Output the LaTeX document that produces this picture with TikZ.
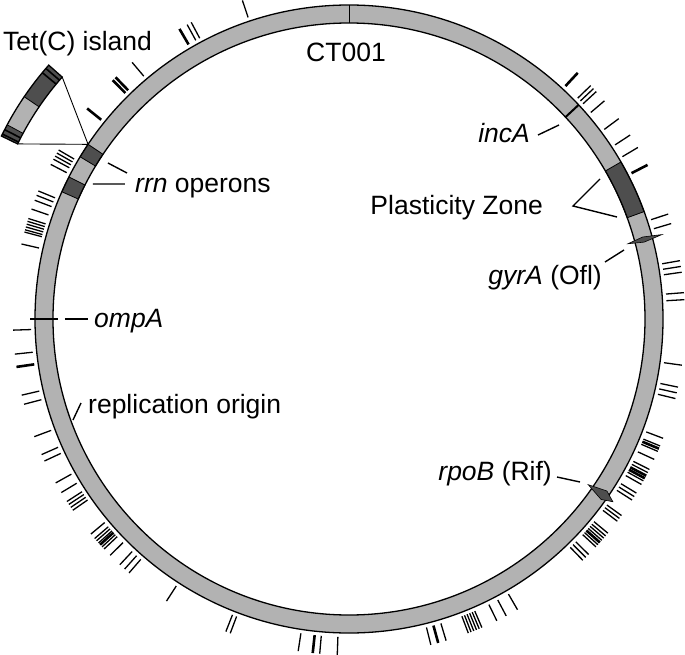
\documentclass[tikz,border=0pt]{standalone}
\usepackage{fontspec}
\setmainfont{Liberation Sans}
\definecolor{ringlight}{RGB}{178,178,178}
\definecolor{ringdark}{RGB}{78,78,78}
\newcommand\annseg[3]{\path[#3] (#1:296) arc[start angle=#1,end angle=#2,radius=296] -- (#2:314) arc[start angle=#2,end angle=#1,radius=314] -- cycle;}
\begin{document}
\begin{tikzpicture}[x=1pt,y=1pt,
  tick/.style={line width=1.3pt},
  thicktick/.style={line width=2.6pt},
  lbl/.style={font=\fontsize{26.5}{31}\selectfont, inner sep=0pt},
  lead/.style={line width=1.4pt},
  segdark/.style={fill=ringdark, draw=black, line width=0.8pt},
  kite/.style={fill=ringdark, draw=black, line width=0.6pt}]
\useasboundingbox (-349,-335) rectangle (336,319);
% ring
\path[fill=ringlight, even odd rule] (0,0) circle (314) (0,0) circle (296);
\annseg{146.2}{148.9}{segdark}
\annseg{153.1}{156.1}{segdark}
\annseg{20}{30}{segdark}
\draw[line width=1.3pt] (0,0) circle (314) (0,0) circle (296);
\draw[line width=0.9pt] (90:296) -- (90:314);
% markers
\draw[line width=2pt] (43:296) -- (43:314);
\draw[line width=2pt] (180:291) -- (180:319);
\path[kite] (15.1:289) -- (15.6:305) -- (15.1:324) -- (14.6:305) -- cycle;
\path[kite] (325.3:291) -- (326.3:310) -- (325.3:321) -- (324.4:310) -- cycle;
% ticks
\foreach \a in {108.5,118.0,118.8,130.2,149.8,150.4,151.0,151.6,152.6,157.6,158.4,159.3,160.9,
  162.6,163.1,163.6,164.1,164.6,165.0,167.1,181.9,186,193.1,194.7,200.5,203.8,205.0,209.2,211.1,
  212.9,213.5,214.1,214.7,219.8,220.8,221.3,221.8,222.7,223.2,224.7,227.0,228.1,229.1,237.1,
  248.5,249.3,261.3,265.0,268.0,284.1,286.8,290.8,291.3,291.8,292.3,292.8,293.3,296.1,297.9,300.1,
  314.1,314.8,315.5,317.3,317.8,318.8,319.3,319.8,320.4,323.0,323.6,324.2,327.4,328.1,328.8,
  330.5,331.2,332.8,333.4,335.3,336.8,337.8,339.2,346.3,347.3,348.3,352.1,3.3,4.5,8.0,9.0,10.0,
  16.5,18.2,30.7,33.2,36.6,40.5,42.6,43.3,44.0}
  \draw[tick] (\a:318) -- (\a:336);
\foreach \a in {120.3,134.0,134.7,141.2,188.2,222.2,263.8,285.4,318.3,331.7,332.2,337.3,27.3,47.1}
  \draw[thicktick] (\a:318) -- (\a:336);
% Tet(C) island inset
\begin{scope}[shift={(-65.1,45.8)}]
  \path[fill=ringdark] (138.5:296) arc[start angle=138.5,end angle=154.1,radius=296] -- (154.1:314) arc[start angle=154.1,end angle=138.5,radius=314] -- cycle;
  \path[fill=ringlight] (145.8:296) arc[start angle=145.8,end angle=151.8,radius=296] -- (151.8:314) arc[start angle=151.8,end angle=145.8,radius=314] -- cycle;
  \foreach \a in {139.3,140.3,152.8,153.7} \draw[line width=1.6pt] (\a:296) -- (\a:314);
  \draw[line width=0.8pt] (145.8:296) -- (145.8:314) (151.8:296) -- (151.8:314);
  \draw[line width=1.3pt] (138.5:296) arc[start angle=138.5,end angle=154.1,radius=296] -- (154.1:314) arc[start angle=154.1,end angle=138.5,radius=314] -- cycle;
  \coordinate (tetA) at (138.5:296);
  \coordinate (tetB) at (154.1:296);
\end{scope}
\coordinate (tetP) at (146.2:314);
\draw[line width=0.9pt] (tetA) -- (tetP) -- (tetB);
% labels
\node[lbl, anchor=base] (ct) at (-3,257) {CT001};
\node[lbl, anchor=base west] (tet) at (-346,268) {Tet(C) island};
\node[lbl, anchor=base west] (rrn) at (-214,127) {\textit{rrn} operons};
\node[lbl, anchor=base east] (inca) at (181,177) {\textit{incA}};
\node[lbl, anchor=base east] (pz) at (194,105) {Plasticity Zone};
\node[lbl, anchor=base east] (gyra) at (253,35) {\textit{gyrA} (Ofl)};
\node[lbl, anchor=base west] (ompa) at (-255,-8) {\textit{ompA}};
\node[lbl, anchor=base west] (ori) at (-261,-94) {replication origin};
\node[lbl, anchor=base east] (rpob) at (203,-161) {\textit{rpoB} (Rif)};
% leader lines
\coordinate (r1a) at (-241,156); \coordinate (r1b) at (-222,146);
\coordinate (r2a) at (-256,135); \coordinate (r2b) at (-224,135);
\draw[lead] (r1a) -- (r1b) (r2a) -- (r2b);
\coordinate (ia) at (189,184); \coordinate (ib) at (210,194);
\draw[lead] (ia) -- (ib);
\coordinate (pa) at (251,140); \coordinate (pv) at (224,113); \coordinate (pb) at (268,102);
\draw[lead] (pa) -- (pv) -- (pb);
\coordinate (ga) at (256,57); \coordinate (gb) at (275,69);
\draw[lead] (ga) -- (gb);
\coordinate (oa) at (-284,0); \coordinate (ob) at (-261,0);
\draw[lead] (oa) -- (ob);
\coordinate (qa) at (-276,-101); \coordinate (qb) at (-268,-84);
\draw[lead] (qa) -- (qb);
\coordinate (ra) at (208,-158); \coordinate (rb) at (231,-163);
\draw[lead] (ra) -- (rb);
\end{tikzpicture}
\end{document}
